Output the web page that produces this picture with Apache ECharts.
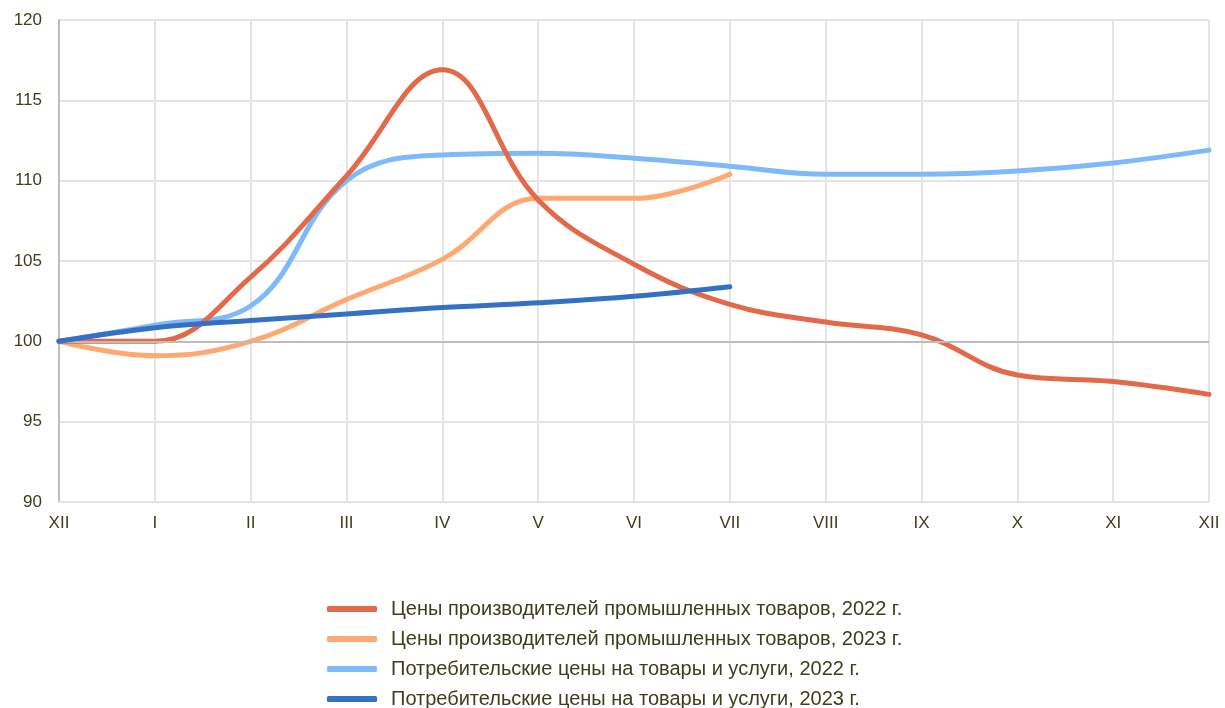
<!DOCTYPE html>
<html><head><meta charset="utf-8">
<script src="https://cdn.jsdelivr.net/npm/echarts@6/dist/echarts.min.js"></script>
<style>html,body{margin:0;padding:0;background:#fff}#c{width:1225px;height:708px}</style>
</head><body><div id="c"></div>
<script>
const categories = ['XII','I','II','III','IV','V','VI','VII','VIII','IX','X','XI','XII'];
const seriesNames = [
  'Цены производителей промышленных товаров, 2022 г.',
  'Цены производителей промышленных товаров, 2023 г.',
  'Потребительские цены на товары и услуги, 2022 г.',
  'Потребительские цены на товары и услуги, 2023 г.'
];
const ppi2022 = [100, 100.0, 104.0, 110.3, 116.9, 108.8, 104.8, 102.3, 101.2, 100.4, 97.9, 97.5, 96.7];
const ppi2023 = [100, 99.1, 100.0, 102.6, 105.1, 108.9, 108.9, 110.4];
const cpi2022 = [100, 101.0, 102.2, 110.0, 111.6, 111.7, 111.4, 110.9, 110.4, 110.4, 110.6, 111.1, 111.9];
const cpi2023 = [100, 100.85, 101.3, 101.7, 102.1, 102.4, 102.8, 103.4];
const yMin = 90, yMax = 120, yStep = 5;
const baseLine = 100;
const colors = ['#E2694A', '#FFA872', '#7EBAF9', '#3470C4'];
const txt = '#3f3d1e';
const font = 'Liberation Sans, Arial, sans-serif';

const chart = echarts.init(document.getElementById('c'), null, {renderer: 'canvas'});
const datas = [ppi2022, ppi2023, cpi2022, cpi2023];
chart.setOption({
  animation: false,
  grid: {left: 59, right: 16, top: 20, bottom: 206},
  legend: {
    orient: 'vertical', left: 322, top: 594, height: 160, itemGap: 10,
    itemWidth: 50, itemHeight: 6, icon: 'roundRect',
    textStyle: {fontSize: 20, color: txt, fontFamily: font, padding: [0,0,0,9]},
    data: seriesNames
  },
  xAxis: {
    type: 'category', data: categories, boundaryGap: false,
    axisLine: {show: true, lineStyle: {color: '#e4e4e4', width: 2}},
    axisTick: {show: false},
    splitLine: {show: true, lineStyle: {color: '#e4e4e4', width: 2}},
    axisLabel: {color: txt, fontSize: 17, fontFamily: font, margin: 13, showMaxLabel: true, showMinLabel: true}
  },
  yAxis: {
    type: 'value', min: yMin, max: yMax, interval: yStep,
    axisLine: {show: true, lineStyle: {color: '#bdbdbd', width: 2}},
    axisTick: {show: false},
    splitLine: {lineStyle: {color: '#e4e4e4', width: 2}},
    axisLabel: {color: txt, fontSize: 17, fontFamily: font, margin: 17}
  },
  series: datas.map((d, i) => ({
    name: seriesNames[i], type: 'line', data: d, smooth: 0.4, showSymbol: false,
    lineStyle: {width: 5, color: colors[i], cap: 'round'},
    itemStyle: {color: colors[i]},
    z: i === 3 ? 5 : 3 + (i === 0 ? 1 : 0),
    markLine: i === 0 ? {
      silent: true, symbol: 'none', label: {show: false},
      lineStyle: {color: '#bdbdbd', width: 2, type: 'solid'},
      data: [{yAxis: baseLine}]
    } : undefined
  }))
});
</script></body></html>
